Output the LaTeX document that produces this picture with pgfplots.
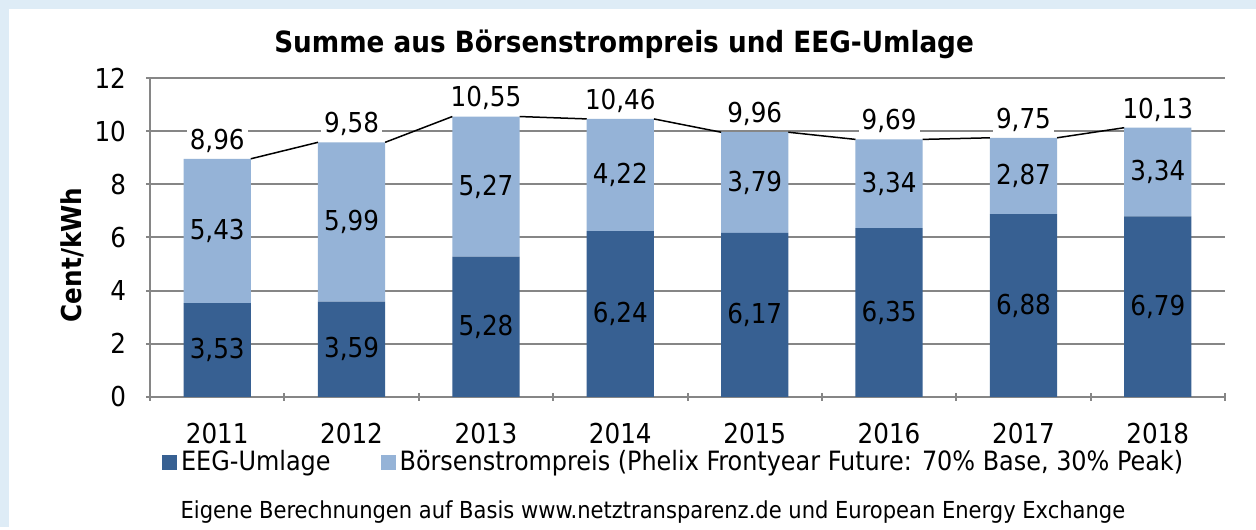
\documentclass[border=0pt]{standalone}
\usepackage{pgfplots}
\pgfplotsset{compat=1.18}
\usepackage{pgfplotstable}
\usepackage{fontspec}
\IfFontExistsTF{DejaVu Sans Condensed}{\setmainfont{DejaVu Sans Condensed}}{\setmainfont{DejaVu Sans}}
\definecolor{darkb}{RGB}{55,96,146}
\definecolor{lightb}{RGB}{149,179,215}
\definecolor{bgblue}{RGB}{222,236,246}
\definecolor{gridg}{RGB}{134,134,134}
\newcommand\fs{\fontsize{13.7}{16}\selectfont}

\pgfplotstableread{
x eeg boerse total
0 3.53 5.43 8.96
1 3.59 5.99 9.58
2 5.28 5.27 10.55
3 6.24 4.22 10.46
4 6.17 3.79 9.96
5 6.35 3.34 9.69
6 6.88 2.87 9.75
7 6.79 3.34 10.13
}\data

\pgfplotstableread{
x y
0.25 8.96
0.75 9.58
nan nan
1.25 9.58
1.75 10.55
nan nan
2.25 10.55
2.75 10.46
nan nan
3.25 10.46
3.75 9.96
nan nan
4.25 9.96
4.75 9.69
nan nan
5.25 9.69
5.75 9.75
nan nan
6.25 9.75
6.75 10.13
}\lines

\begin{document}
\begin{tikzpicture}
\fill[bgblue] (0pt,0pt) rectangle (628pt,263.5pt);
\fill[white] (4.5pt,0pt) rectangle (628pt,259pt);
\begin{axis}[
  at={(75pt,65pt)}, anchor=south west, scale only axis,
  width=537.5pt, height=159.5pt,
  ybar stacked, bar width=0.5,
  xmin=-0.5, xmax=7.5, ymin=0, ymax=12,
  ytick={0,2,...,12},
  xtick={0,1,2,3,4,5,6,7},
  xticklabels={2011,2012,2013,2014,2015,2016,2017,2018},
  minor xtick={-0.5,0.5,1.5,2.5,3.5,4.5,5.5,6.5,7.5},
  xtick style={draw=none},
  minor x tick style={draw=gridg, line width=1pt},
  y tick style={draw=gridg, line width=1pt},
  tick align=outside, major tick length=4pt, minor tick length=4pt,
  axis lines=left, axis line style={-, draw=gridg, line width=1pt},
  ymajorgrids, major grid style={draw=gridg, line width=1pt},
  tick label style={font=\fs},
  xticklabel style={yshift=-7.5pt},
  yticklabel style={xshift=-6.5pt},
  /pgf/number format/assume math mode=true,
  legend style={draw=none, fill=none, at={(0.488,-0.204)}, anchor=center,
    legend columns=2, font=\fontsize{13.3}{16}\selectfont,
    /tikz/every even column/.append style={column sep=23pt}},
  legend image code/.code={\fill[#1] (0pt,-3.75pt) rectangle (7.5pt,3.75pt);},
]
\addplot[fill=darkb, draw=none] table[x=x, y=eeg] {\data};
\addplot[fill=lightb, draw=none] table[x=x, y=boerse] {\data};
\legend{EEG-Umlage, {Börsenstrompreis (Phelix Frontyear Future: 70\% Base, 30\% Peak)}}
\end{axis}
\begin{axis}[
  at={(75pt,65pt)}, anchor=south west, scale only axis,
  width=537.5pt, height=159.5pt,
  xmin=-0.5, xmax=7.5, ymin=0, ymax=12,
  axis lines=none, clip=false, unbounded coords=jump,
  /pgf/number format/.cd, use comma, fixed, fixed zerofill, precision=2, assume math mode=true,
]
\addplot[black, line width=0.75pt, mark=none] table[x=x, y=y] {\lines};
\addplot[draw=none, mark=none, nodes near coords, point meta=explicit,
  nodes near coords style={font=\fs, fill=white, inner sep=1.5pt, anchor=south, yshift=1.5pt}]
  table[x=x, y=total, meta=total] {\data};
\addplot[draw=none, mark=none, nodes near coords, point meta=explicit,
  nodes near coords style={font=\fs, anchor=center}]
  table[x=x, y expr=\thisrow{eeg}/2, meta=eeg] {\data};
\addplot[draw=none, mark=none, nodes near coords, point meta=explicit,
  nodes near coords style={font=\fs, anchor=center}]
  table[x=x, y expr=\thisrow{eeg}+\thisrow{boerse}/2, meta=boerse] {\data};
\end{axis}
\node[font=\bfseries\fontsize{14.6}{18}\selectfont] at (312pt,241.5pt) {Summe aus Börsenstrompreis und EEG-Umlage};
\node[rotate=90, font=\bfseries\fs] at (36pt,136pt) {Cent/kWh};
\node[font=\fontsize{11.7}{14}\selectfont] at (326.5pt,7.5pt) {Eigene Berechnungen auf Basis www.netztransparenz.de und European Energy Exchange};
\end{tikzpicture}
\end{document}
